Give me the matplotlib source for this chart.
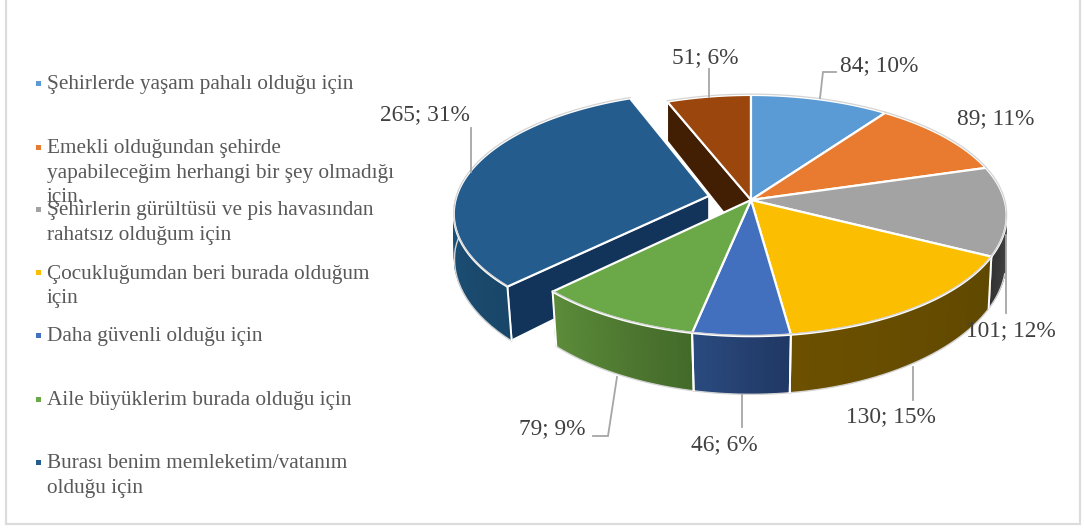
import numpy as np
import matplotlib
matplotlib.use('Agg')
from matplotlib import pyplot as plt
from matplotlib.patches import Polygon, Rectangle

plt.rcParams['font.family'] = ['Liberation Serif', 'DejaVu Serif']

categories = [
    'Şehirlerde yaşam pahalı olduğu için',
    'Emekli olduğundan şehirde\nyapabileceğim herhangi bir şey olmadığı\niçin.',
    'Şehirlerin gürültüsü ve pis havasından\nrahatsız olduğum için',
    'Çocukluğumdan beri burada olduğum\niçin',
    'Daha güvenli olduğu için',
    'Aile büyüklerim burada olduğu için',
    'Burası benim memleketim/vatanım\nolduğu için',
    '',
]
values = [84, 89, 101, 130, 46, 79, 265, 51]
percents = [10, 11, 12, 15, 6, 9, 31, 6]
top_colors = ['#5B9BD5', '#E87B2F', '#A3A3A3', '#FBBE00', '#4270BF', '#6BA847', '#255C8E', '#9A460C']
wall_bright = ['#2f5f8f', '#8a4a1c', '#444444', '#6c5000', '#2a4a7e', '#5c8c3a', '#1f5580', '#421e03']
wall_dark = ['#2f5f8f', '#8a4a1c', '#333333', '#5f4800', '#203864', '#446a2a', '#194769', '#421e03']
legend_y = [83, 147, 209, 272, 335, 399, 462]
label_pos = [(879, 66), (996, 119), (1011, 331), (891, 417), (724, 445), (552, 429), (425, 115), (705, 58)]
leader_lines = [
    [(820, 98), (823, 72), (836, 72)],
    None,
    [(1006, 235), (1006, 313)],
    [(913, 367), (913, 400)],
    [(742, 395), (742, 427)],
    [(617, 377), (608, 436), (593, 436)],
    [(471, 172), (471, 128)],
    [(709, 97), (709, 69)],
]

CX, CY = 751, 200
RX, RY = 253.5, 118.6
PERSP = 0.129
EXPLODE = 0.17
TEXT = '#595959'


def project(theta, radius=1.0, offset=(0, 0)):
    # clockwise angle from 12 o'clock onto the tilted disc
    u = radius * np.sin(theta) + offset[0]
    v = radius * np.cos(theta) + offset[1]
    w = 1 + PERSP * v
    return CX + RX * u / w, CY - RY * v / w


def lower(x, y):
    shrink = 1 - 0.0002 * np.maximum(y - CY, 0)
    return CX + (x - CX) * shrink, y + 47 + 0.076 * (y - CY)


def mix(c1, c2, t):
    a = np.array(matplotlib.colors.to_rgb(c1))
    b = np.array(matplotlib.colors.to_rgb(c2))
    return tuple(a + (b - a) * t)


def top_face(a, b, color, offset=(0, 0), z=3):
    th = np.linspace(a, b, 80)
    xs, ys = project(th, offset=offset)
    x0, y0 = project(0.0, 0.0, offset)
    pts = [(x0, y0)] + list(zip(xs, ys))
    ax.add_patch(Polygon(pts, closed=True, fc=color, ec='white', lw=1.6, joinstyle='round', zorder=z))
    ax.plot(xs, ys - 0.8, color='#d4d4d4', lw=0.9, zorder=z + 0.1)


def outer_wall(a, b, c1, c2, offset=(0, 0), z=2, seams=(0, -1)):
    th = np.linspace(a, b, 31)
    for i in range(30):
        x, y = project(th[i:i + 2], offset=offset)
        xb, yb = lower(x, y)
        pts = [(x[0], y[0]), (x[1], y[1]), (xb[1], yb[1]), (xb[0], yb[0])]
        col = mix(c1, c2, i / 29)
        ax.add_patch(Polygon(pts, closed=True, fc=col, ec=col, lw=1.0, zorder=z))
    x, y = project(th, offset=offset)
    xb, yb = lower(x, y)
    ax.plot(xb, yb + 0.8, color='#d4d4d4', lw=1.0, zorder=z)
    for k in seams:
        ax.plot([x[k], xb[k]], [y[k], yb[k]], color='white', lw=1.4, zorder=z + 0.1)


def radial_wall(theta, color, offset=(0, 0), z=2):
    x0, y0 = project(0.0, 0.0, offset)
    x1, y1 = project(theta, offset=offset)
    xb0, yb0 = lower(x0, y0)
    xb1, yb1 = lower(x1, y1)
    ax.add_patch(Polygon([(x0, y0), (x1, y1), (xb1, yb1), (xb0, yb0)], closed=True,
                         fc=color, ec='white', lw=1.2, zorder=z))


fig = plt.figure(figsize=(10.84, 5.28), dpi=100)
ax = fig.add_axes([0, 0, 1, 1])
ax.set_xlim(0, 1084)
ax.set_ylim(528, 0)
ax.axis('off')

ax.add_patch(Rectangle((6, -3), 1074, 527, fc='white', ec='#dcdcdc', lw=1.6, zorder=0))

edges = np.concatenate([[0], np.cumsum(values)]) / sum(values) * 2 * np.pi
mid = (edges[6] + edges[7]) / 2
shift = (EXPLODE * np.sin(mid), EXPLODE * np.cos(mid))

# far slices first, then the pulled out one, then the front of the pie
radial_wall(edges[7], wall_dark[7], z=1)
top_face(edges[7], edges[8], top_colors[7], z=1.5)
for i in (0, 1, 2):
    top_face(edges[i], edges[i + 1], top_colors[i], z=3)
outer_wall(np.pi / 2 + 0.2, edges[3], wall_bright[2], wall_dark[2], z=2, seams=(-1,))

radial_wall(edges[6], '#12345a', shift, z=4)
outer_wall(edges[6], np.radians(300), wall_dark[6], wall_bright[6], shift, z=4, seams=(0,))
top_face(edges[6], edges[7], top_colors[6], shift, z=5)

for i in (3, 4, 5):
    outer_wall(edges[i], edges[i + 1], wall_dark[i], wall_bright[i], z=6)
for i in (3, 4, 5):
    top_face(edges[i], edges[i + 1], top_colors[i], z=7)

for line in leader_lines:
    if line:
        ax.plot(*zip(*line), color='#a6a6a6', lw=1.3, zorder=8, solid_joinstyle='miter')

for val, pct, (lx, ly) in zip(values, percents, label_pos):
    ax.text(lx, ly, f'{val}; {pct}%', ha='center', va='center', fontsize=16.8, color='#404040', zorder=9)

for name, color, ly in zip(categories, top_colors, legend_y):
    if name:
        ax.add_patch(Rectangle((35.5, ly - 2.5), 5, 5, fc=color, ec='none', zorder=9))
        ax.text(47, ly - 7.5, name, ha='left', va='top', fontsize=15.3, color=TEXT, linespacing=1.36, zorder=9)

fig.savefig('out.png', dpi=100)
